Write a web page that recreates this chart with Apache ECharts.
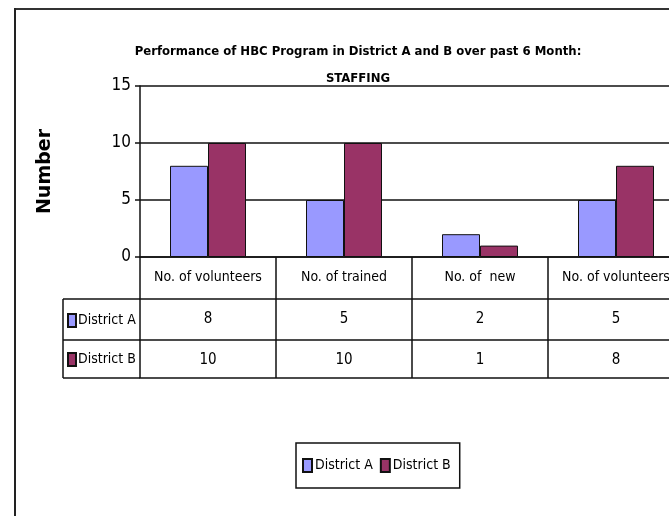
<!DOCTYPE html>
<html>
<head>
<meta charset="utf-8">
<script src="https://cdn.jsdelivr.net/npm/echarts@6/dist/echarts.min.js"></script>
<style>
  html, body { margin: 0; padding: 0; background: #fff; overflow: hidden; }
  /* the table runs past the right edge of the picture, so the canvas is wider than the window */
  #main { width: 700px; height: 516px; }
</style>
</head>
<body>
<div id="main"></div>
<script>
// chart data
const categories = ['No. of volunteers', 'No. of trained', 'No. of  new', 'No. of volunteers'];
const seriesNames = ['District A', 'District B'];
const districtA = [8, 5, 2, 5];
const districtB = [10, 10, 1, 8];
const colors = ['#9999FF', '#993366'];

// layout (px)
const FONT = "'Liberation Sans Narrow', 'Arial Narrow', 'DejaVu Sans Condensed', sans-serif";
const gridLeft = 140;
const gridTop = 86;
const gridH = 171;
const colW = 136;
const rowH = [42, 41, 38];
const tableLeft = 63;

const myChart = echarts.init(document.getElementById('main'), null, { renderer: 'canvas' });

const axisBase = (data, offset, tickLen, showLabel, fontSize) => ({
  type: 'category',
  gridIndex: 0,
  position: 'bottom',
  data: data,
  offset: offset,
  boundaryGap: true,
  axisLine: { show: true, onZero: false, lineStyle: { color: '#111', width: 1.5 } },
  axisTick: { show: tickLen > 0, interval: 0, length: tickLen, lineStyle: { color: '#111', width: 1.5 } },
  axisLabel: {
    show: showLabel, interval: 0, margin: 13, color: '#000',
    fontFamily: FONT, fontSize: fontSize || 14
  }
});

const rowTop0 = gridTop + gridH;
const rowTop1 = rowTop0 + rowH[0];
const rowTop2 = rowTop1 + rowH[1];
const rowBottom = rowTop2 + rowH[2];

const lineStyle = { stroke: '#111', lineWidth: 1.5 };

const option = {
  backgroundColor: '#fff',
  animation: false,
  title: {
    text: 'Performance of HBC Program in District A and B over past 6 Month:\nSTAFFING',
    left: 353,
    top: 33,
    textAlign: 'center',
    textStyle: {
      fontFamily: FONT, fontSize: 13, fontWeight: 'bold', color: '#000', lineHeight: 27
    }
  },
  legend: [
    {
      data: seriesNames,
      left: 296,
      top: 443,
      orient: 'horizontal',
      icon: 'rect',
      itemWidth: 9,
      itemHeight: 13,
      itemGap: 7,
      padding: [15, 9, 15, 6],
      borderColor: '#111',
      borderWidth: 1.5,
      selectedMode: false,
      textStyle: { fontFamily: FONT, fontSize: 14, color: '#000', padding: [0, 0, 0, -2] }
    },
    {
      data: [seriesNames[0]],
      left: tableLeft + 4,
      top: rowTop1 + 14,
      icon: 'rect', itemWidth: 8, itemHeight: 13, padding: 0,
      selectedMode: false,
      textStyle: { fontFamily: FONT, fontSize: 14, color: '#000', padding: [0, 0, 0, -3] }
    },
    {
      data: [seriesNames[1]],
      left: tableLeft + 4,
      top: rowTop2 + 12,
      icon: 'rect', itemWidth: 8, itemHeight: 13, padding: 0,
      selectedMode: false,
      textStyle: { fontFamily: FONT, fontSize: 14, color: '#000', padding: [0, 0, 0, -3] }
    }
  ],
  grid: {
    left: gridLeft,
    top: gridTop,
    width: colW * categories.length,
    height: gridH,
    containLabel: false
  },
  xAxis: [
    axisBase(categories, 0, rowH[0], true, 14),
    axisBase(districtA.map(String), rowH[0], rowH[1], true, 15),
    axisBase(districtB.map(String), rowH[0] + rowH[1], rowH[2], true, 15),
    axisBase(categories, rowH[0] + rowH[1] + rowH[2], 0, false)
  ],
  yAxis: {
    type: 'value',
    min: 0,
    max: 15,
    interval: 5,
    name: 'Number',
    nameLocation: 'middle',
    nameGap: 85,
    nameRotate: 90,
    nameTextStyle: {
      fontFamily: "'DejaVu Sans', sans-serif", fontSize: 19, fontWeight: 'bold', color: '#000'
    },
    axisLine: { show: true, lineStyle: { color: '#111', width: 1.5 } },
    axisTick: { show: true, length: 5, lineStyle: { color: '#111', width: 1.5 } },
    axisLabel: { color: '#000', fontFamily: FONT, fontSize: 17, margin: 9 },
    splitLine: { show: true, lineStyle: { color: '#111', width: 1.5 } }
  },
  series: [
    {
      name: seriesNames[0],
      type: 'bar',
      xAxisIndex: 0,
      data: districtA,
      barWidth: 38,
      barGap: '0%',
      itemStyle: { color: colors[0], borderColor: '#111', borderWidth: 1 }
    },
    {
      name: seriesNames[1],
      type: 'bar',
      xAxisIndex: 0,
      data: districtB,
      barWidth: 38,
      barGap: '0%',
      itemStyle: { color: colors[1], borderColor: '#111', borderWidth: 1 }
    }
  ],
  graphic: [
    // outer frame
    { type: 'line', shape: { x1: 14, y1: 9, x2: 700, y2: 9 }, style: { stroke: '#333', lineWidth: 2 } },
    { type: 'line', shape: { x1: 15, y1: 8, x2: 15, y2: 516 }, style: { stroke: '#222', lineWidth: 2 } },
    // row header column of the data table
    { type: 'line', shape: { x1: tableLeft, y1: rowTop1, x2: gridLeft, y2: rowTop1 }, style: lineStyle },
    { type: 'line', shape: { x1: tableLeft, y1: rowTop2, x2: gridLeft, y2: rowTop2 }, style: lineStyle },
    { type: 'line', shape: { x1: tableLeft, y1: rowBottom, x2: gridLeft, y2: rowBottom }, style: lineStyle },
    { type: 'line', shape: { x1: tableLeft, y1: rowTop1, x2: tableLeft, y2: rowBottom }, style: lineStyle }
  ]
};

myChart.setOption(option);
</script>
</body>
</html>
